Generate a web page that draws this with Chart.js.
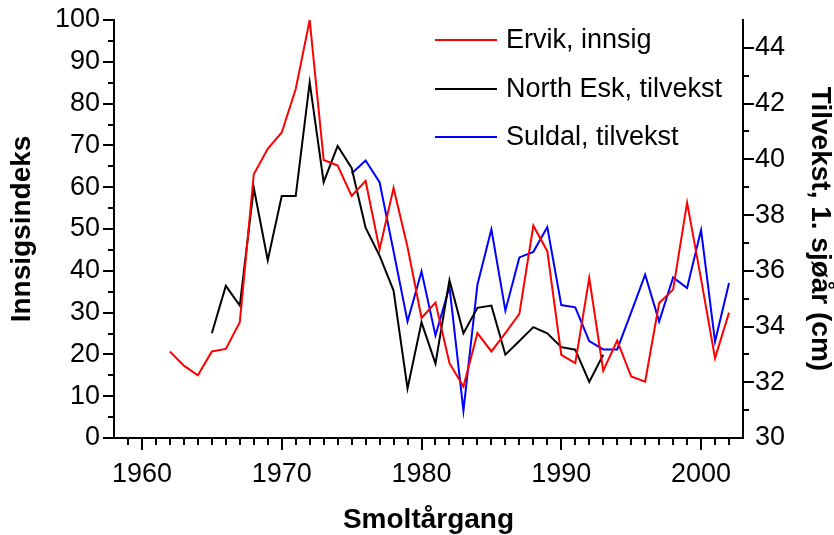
<!DOCTYPE html>
<html>
<head>
<meta charset="utf-8">
<script src="https://cdn.jsdelivr.net/npm/chart.js@4/dist/chart.umd.min.js"></script>
<style>
  html, body { margin: 0; padding: 0; background: #fff; }
  #wrap { width: 834px; height: 535px; }
</style>
</head>
<body>
<div id="wrap"><canvas id="myChart" width="834" height="535"></canvas></div>
<script>
// smolt year classes
const years = [1962, 1963, 1964, 1965, 1966, 1967, 1968, 1969, 1970, 1971,
               1972, 1973, 1974, 1975, 1976, 1977, 1978, 1979, 1980, 1981,
               1982, 1983, 1984, 1985, 1986, 1987, 1988, 1989, 1990, 1991,
               1992, 1993, 1994, 1995, 1996, 1997, 1998, 1999, 2000, 2001, 2002];

// Ervik, innsig (left axis, index)
const ervikInnsig = [20.7, 17.3, 15.0, 20.7, 21.3, 27.7, 63.1, 69.2, 73.1, 83.5,
                     100, 66.5, 65.2, 57.9, 61.5, 45.1, 59.8, 45.7, 28.7, 32.4,
                     17.9, 12.3, 25.1, 20.7, 25.1, 29.7, 50.8, 44.7, 19.9, 17.9,
                     38.3, 16.1, 23.3, 14.7, 13.5, 32.3, 35.5, 56.3, 38.0, 19.1, 30.0];

// North Esk, tilvekst (right axis, cm)
const northEskTilvekst = [null, null, null, 33.76, 35.46, 34.75, 38.98, 36.38, 38.68, 38.68,
                          42.76, 39.18, 40.48, 39.69, 37.55, 36.54, 35.29, 31.78, 34.15, 32.67,
                          35.67, 33.76, 34.67, 34.75, 32.99, 33.48, 33.98, 33.76, 33.26, 33.17,
                          32.01, 32.99, null, null, null, null, null, null, null, null, null];

// Suldal, tilvekst (right axis, cm)
const suldalTilvekst = [null, null, null, null, null, null, null, null, null, null,
                        null, null, null, 39.49, 39.96, 39.18, 36.7, 34.18, 35.98, 33.68,
                        35.43, 30.98, 35.5, 37.49, 34.57, 36.48, 36.68, 37.57, 34.77, 34.69,
                        33.48, 33.18, 33.18, 34.51, 35.86, 34.18, 35.76, 35.38, 37.46, 33.46, 35.56];

const xTicks = [1960, 1970, 1980, 1990, 2000];
const leftTicks = [0, 10, 20, 30, 40, 50, 60, 70, 80, 90, 100];
const rightTicks = [30, 32, 34, 36, 38, 40, 42, 44];

const FONT = '"Liberation Sans", Arial, sans-serif';

const toPoints = (vals) => years.map((yr, i) => ({ x: yr, y: vals[i] }));

// fixed box sizes so the plot area sits where the original has it
const fixBox = (w, h) => (s) => {
    if (w !== null) s.width = w;
    if (h !== null) s.height = h;
    s.paddingTop = 0;
    s.paddingBottom = 0;
    s.paddingLeft = 0;
    s.paddingRight = 0;
};

// outward tick marks, major + minor
const axisTicks = {
    id: 'axisTicks',
    afterDraw(chart) {
        const ctx = chart.ctx;
        const { left, right, bottom } = chart.chartArea;
        const x = chart.scales.x, yl = chart.scales.y, yr = chart.scales.y1;
        ctx.save();
        ctx.strokeStyle = '#000';
        ctx.lineWidth = 2;
        ctx.beginPath();
        for (let v = 1959; v <= 2002; v++) {
            const px = Math.round(x.getPixelForValue(v));
            const len = v % 10 === 0 ? 12 : 7;
            ctx.moveTo(px, bottom);
            ctx.lineTo(px, bottom + len);
        }
        for (let v = 0; v <= 100; v += 5) {
            const py = Math.round(yl.getPixelForValue(v));
            const len = v % 10 === 0 ? 11 : 6;
            ctx.moveTo(left, py);
            ctx.lineTo(left - len, py);
        }
        for (let v = 31; v <= 44; v++) {
            const py = Math.round(yr.getPixelForValue(v));
            const len = v % 2 === 0 ? 11 : 6;
            ctx.moveTo(right, py);
            ctx.lineTo(right + len, py);
        }
        ctx.stroke();
        ctx.restore();
    }
};

// legend inside the plot, upper right
const innerLegend = {
    id: 'innerLegend',
    afterDraw(chart) {
        const ctx = chart.ctx;
        const x0 = 435, x1 = 497, tx = 506;
        const rows = [40, 89, 137];
        ctx.save();
        ctx.font = '27px ' + FONT;
        ctx.textBaseline = 'middle';
        ctx.textAlign = 'left';
        chart.data.datasets.forEach((ds, i) => {
            ctx.strokeStyle = ds.borderColor;
            ctx.lineWidth = 2;
            ctx.beginPath();
            ctx.moveTo(x0, rows[i]);
            ctx.lineTo(x1, rows[i]);
            ctx.stroke();
            ctx.fillStyle = '#000';
            ctx.fillText(ds.label, tx, rows[i] + 1);
        });
        ctx.restore();
    }
};

const ctx = document.querySelector('#myChart').getContext('2d');
const myChart = new Chart(ctx, {
    type: 'line',
    data: {
        datasets: [{
            label: 'Ervik, innsig',
            data: toPoints(ervikInnsig),
            borderColor: '#ff0000',
            yAxisID: 'y'
        }, {
            label: 'North Esk, tilvekst',
            data: toPoints(northEskTilvekst),
            borderColor: '#000000',
            yAxisID: 'y1'
        }, {
            label: 'Suldal, tilvekst',
            data: toPoints(suldalTilvekst),
            borderColor: '#0000ff',
            yAxisID: 'y1'
        }]
    },
    options: {
        responsive: false,
        animation: false,
        devicePixelRatio: 1,
        layout: { padding: { top: 20, left: 0, right: 0, bottom: 0 } },
        elements: {
            line: { borderWidth: 2, tension: 0, fill: false },
            point: { radius: 0, hoverRadius: 0 }
        },
        plugins: {
            legend: { display: false },
            tooltip: { enabled: false }
        },
        scales: {
            x: {
                type: 'linear',
                min: 1958,
                max: 2003,
                afterBuildTicks: (s) => { s.ticks = xTicks.map(v => ({ value: v })); },
                afterFit: fixBox(null, 97),
                grid: { display: false, drawTicks: false },
                border: { display: true, color: '#000', width: 2 },
                ticks: {
                    color: '#000',
                    font: { family: FONT, size: 27 },
                    padding: 20,
                    maxRotation: 0,
                    callback: (v) => String(v)
                },
                title: {
                    display: true,
                    text: 'Smoltårgang',
                    color: '#000',
                    font: { family: FONT, size: 28, weight: 'bold', lineHeight: 1 },
                    padding: { top: 0, bottom: 1 }
                }
            },
            y: {
                position: 'left',
                min: 0,
                max: 100,
                afterBuildTicks: (s) => { s.ticks = leftTicks.map(v => ({ value: v })); },
                afterFit: fixBox(114, null),
                grid: { display: false, drawTicks: false },
                border: { display: true, color: '#000', width: 2 },
                ticks: {
                    color: '#000',
                    font: { family: FONT, size: 27 },
                    padding: 14
                },
                title: {
                    display: true,
                    text: 'Innsigsindeks',
                    color: '#000',
                    font: { family: FONT, size: 28, weight: 'bold', lineHeight: 1 },
                    padding: { top: 8, bottom: 0 }
                }
            },
            y1: {
                position: 'right',
                min: 30,
                max: 45,
                afterBuildTicks: (s) => { s.ticks = rightTicks.map(v => ({ value: v })); },
                afterFit: fixBox(91, null),
                grid: { display: false, drawTicks: false },
                border: { display: true, color: '#000', width: 2 },
                ticks: {
                    color: '#000',
                    font: { family: FONT, size: 27 },
                    padding: 12
                },
                title: {
                    display: true,
                    text: 'Tilvekst, 1. sjøår (cm)',
                    color: '#000',
                    font: { family: FONT, size: 28, weight: 'bold', lineHeight: 1 },
                    padding: { top: 0, bottom: 0 }
                }
            }
        }
    },
    plugins: [axisTicks, innerLegend]
});
</script>
</body>
</html>
